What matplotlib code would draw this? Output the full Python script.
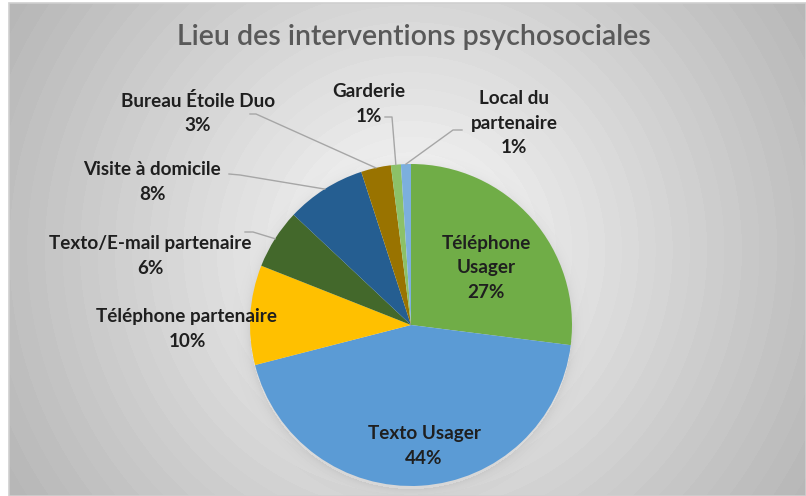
import numpy as np
import matplotlib.pyplot as plt
from matplotlib.patches import Rectangle

plt.rcParams['font.family'] = ['Lato', 'DejaVu Sans']

# data
labels = ['Téléphone\nUsager', 'Texto Usager', 'Téléphone partenaire',
          'Texto/E-mail partenaire', 'Visite à domicile', 'Bureau Étoile Duo',
          'Garderie', 'Local du\npartenaire']
values = [27, 44, 10, 6, 8, 3, 1, 1]
colors = ['#70AD47', '#5B9BD5', '#FFC000', '#43682B', '#255E91',
          '#997300', '#8CC168', '#7CAFDD']
title = 'Lieu des interventions psychosociales'

# layout (pixels, measured from top-left)
W, H = 806, 496
cx, cy, r = 411, 325, 161
label_pos = [(486, 268), (424, 446), (187, 329), (150, 256), (152, 182),
             (198, 113), (369, 104), (514, 123)]
# leader lines for the outside labels: (elbow, end)
leaders = {3: ((253, 232), (245, 232)),
           4: ((240, 175), (229, 174)),
           5: ((256, 114), (250, 114)),
           6: ((392, 117), (385, 117)),
           7: ((453, 130), (462, 130))}


def py(y):
    return H - y


fig = plt.figure(figsize=(W / 100, H / 100), dpi=100)
ax = fig.add_axes([0, 0, 1, 1])

# radial gradient background
x0, y0 = 9, 3
xx, yy = np.meshgrid(np.arange(x0, W) + 0.5, np.arange(y0, H) + 0.5)
d = np.hypot(xx - 411, yy - 250)
g = 255 - 72 * (d / 470) ** 0.9
g = np.floor(g / 2.5) * 2.5
dp = np.hypot(xx - cx, yy - (cy + 3))
g = g - np.where(dp > r, 14 * np.exp(-(dp - r) / 5), 0)
img = np.clip(g, 0, 255) / 255
ax.imshow(img, cmap='gray', vmin=0, vmax=1, extent=(x0, W, 0, py(y0)),
          aspect='auto', interpolation='bilinear', zorder=0)
ax.add_patch(Rectangle((x0, 0), W - x0, py(y0), fill=False,
                       edgecolor='#cfcfcf', lw=1.2, zorder=1))

wedges, _ = ax.pie(values, colors=colors, startangle=90, counterclock=False,
                   radius=r, center=(cx, py(cy)),
                   wedgeprops=dict(linewidth=0))

for i, (lab, v) in enumerate(zip(labels, values)):
    x, y = label_pos[i]
    ax.text(x, py(y), f'{lab}\n{v}%', ha='center', va='center',
            fontsize=13.6, fontweight='bold', color='#1f1f1f',
            linespacing=1.55, zorder=5)
    if i in leaders:
        w = wedges[i]
        th = np.deg2rad((w.theta1 + w.theta2) / 2)
        ax_, ay_ = cx + r * np.cos(th), py(cy) + r * np.sin(th)
        (ex, ey), (fx, fy) = leaders[i]
        ax.plot([ax_, ex, fx], [ay_, py(ey), py(fy)], color='#a6a6a6',
                lw=1, zorder=4)

ax.text(414, py(37), title, ha='center', va='center', fontsize=20.5,
        fontweight='semibold', color='#595959', zorder=5)

ax.set_xlim(0, W)
ax.set_ylim(0, H)
ax.set_aspect('auto')
ax.axis('off')
fig.savefig('out.png', dpi=100, facecolor='white')
